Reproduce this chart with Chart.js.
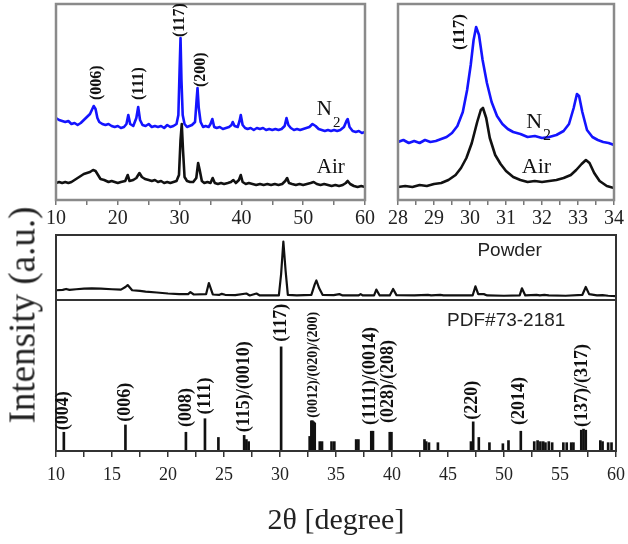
<!DOCTYPE html>
<html>
<head>
<meta charset="utf-8">
<script src="https://cdn.jsdelivr.net/npm/chart.js@4.4.0/dist/chart.umd.min.js"></script>
<style>
html, body { margin:0; padding:0; width:628px; height:544px; overflow:hidden; background:#fff; }
canvas { position:absolute; }
#ytitle { position:absolute; left:22px; top:315px; transform:translate(-50%,-50%) rotate(-90deg);
  font-family:"Liberation Serif", serif; font-size:37px; color:#222; white-space:nowrap; }
</style>
</head>
<body>
<canvas id="wide" width="349" height="235" style="left:36px;top:0px"></canvas>
<canvas id="zoom" width="256" height="235" style="left:378px;top:0px"></canvas>
<canvas id="powder" width="600" height="69" style="left:36px;top:233px"></canvas>
<canvas id="pdf" width="600" height="246" style="left:36px;top:298px"></canvas>
<div id="ytitle">Intensity (a.u.)</div>
<script>
// film patterns, 10-60 deg (N2 annealed / air annealed), arbitrary units
var n2Wide = [[10,82],[10.5,80],[11,79],[11.5,78],[12,79],[12.5,76],[13,77],[13.5,75],[14,77],[14.5,80],
  [15,83],[15.5,86],[15.8,90],[16.1,94],[16.4,91],[16.7,82],[17,78],[17.5,76],[18,75],[18.5,76],[19,74],
  [19.5,73],[20,74],[20.5,72],[21,73],[21.4,76],[21.7,85],[22,76],[22.5,74],[23,82],[23.3,93],[23.6,80],
  [24,75],[24.5,74],[25,76],[25.5,73],[26,74],[26.5,73],[27,74],[27.5,72],[28,75],[28.5,73],[29,74],
  [29.5,76],[29.8,85],[30,130],[30.15,162],[30.3,120],[30.5,85],[30.8,76],[31.2,73],[31.6,74],[32,75],
  [32.5,78],[32.75,100],[32.9,112],[33.1,92],[33.4,78],[33.8,73],[34.2,74],[34.7,73],[35,76],[35.3,81],
  [35.6,73],[36,72],[36.5,73],[37,71],[37.5,72],[38,73],[38.4,75],[38.6,78],[38.9,74],[39.4,73],[39.7,79],
  [39.9,85],[40.2,75],[40.6,72],[41,71],[41.5,72],[42,70],[42.5,72],[43,71],[43.5,72],[44,70],[44.5,71],
  [45,70],[45.5,71],[46,70],[46.5,71],[47,74],[47.3,82],[47.6,75],[48,72],[48.5,70],[49,71],[49.5,70],
  [50,71],[50.5,72],[51,73],[51.5,76],[52,74],[52.5,71],[53,70],[53.5,69],[54,70],[54.5,69],[55,70],
  [55.5,69],[56,70],[56.6,73],[57,79],[57.2,81],[57.5,73],[58,69],[58.5,68],[59,69],[59.5,67],[60,68]];
var airWide = [[10,17],[10.5,18],[11,17],[11.5,18],[12,17],[12.5,18],[13,20],[13.5,22],[14,24],[14.5,26],
  [15,27],[15.5,28],[16,30],[16.4,29],[16.8,25],[17.2,21],[17.8,20],[18.5,18],[19,19],[19.5,18],[20,17],
  [20.5,18],[21.2,19],[21.6,25],[21.9,19],[22.5,20],[23,22],[23.5,27],[23.9,23],[24.4,21],[25,20],[25.5,19],
  [26,20],[26.5,18],[27,19],[27.5,17],[28,18],[28.5,17],[29,18],[29.5,19],[29.9,25],[30.15,60],[30.35,76],
  [30.55,50],[30.8,23],[31.2,19],[31.7,18],[32.2,18],[32.7,22],[33,37],[33.25,30],[33.6,19],[34,17],
  [34.5,18],[35,17],[35.35,22],[35.7,17],[36.2,16],[36.7,17],[37.2,16],[37.8,17],[38.3,18],[38.7,20],
  [39.1,17],[39.6,20],[39.9,25],[40.2,18],[40.7,16],[41.2,17],[41.8,16],[42.4,15],[43,16],[43.6,15],
  [44.2,16],[44.8,15],[45.4,16],[46,15],[46.6,16],[47.1,19],[47.4,22],[47.7,17],[48.2,16],[48.8,15],
  [49.4,16],[50,15],[50.6,16],[51.2,17],[51.7,18],[52.2,16],[52.8,15],[53.4,16],[54,15],[54.6,14],
  [55.2,15],[55.8,14],[56.4,15],[56.9,17],[57.2,19],[57.6,16],[58.2,14],[58.8,13],[59.4,14],[60,13]];

// detail 28-34 deg
var n2Zoom = [[28,58],[28.15,60],[28.3,57],[28.45,59],[28.6,57],[28.75,60],[28.9,58],[29.05,59],[29.2,61],
  [29.35,63],[29.5,67],[29.65,74],[29.8,88],[29.92,110],[30.02,135],[30.1,160],[30.17,173],[30.25,165],
  [30.35,140],[30.47,117],[30.6,98],[30.75,84],[30.9,76],[31.05,71],[31.2,68],[31.4,66],[31.6,63],[31.8,64],
  [32,62],[32.2,63],[32.4,65],[32.6,69],[32.75,76],[32.88,92],[32.97,106],[33.03,104],[33.12,88],[33.25,70],
  [33.4,63],[33.55,60],[33.7,58],[33.85,57],[34,55]];
var airZoom = [[28,13],[28.2,14],[28.4,13],[28.6,15],[28.8,14],[29,16],[29.2,17],[29.4,20],[29.6,25],
  [29.75,32],[29.9,42],[30.05,57],[30.2,78],[30.3,90],[30.36,92],[30.45,82],[30.55,62],[30.7,45],[30.85,36],
  [31,29],[31.2,23],[31.4,20],[31.6,18],[31.8,19],[32,18],[32.2,19],[32.4,20],[32.6,22],[32.8,25],[32.95,30],
  [33.1,36],[33.22,40],[33.32,37],[33.45,27],[33.6,19],[33.8,14],[34,12]];

// powder pattern (% of panel height)
var powderScan = [[10,15],[10.6,15.5],[10.9,17],[11.2,15.5],[11.8,16.5],[12.5,17.5],[13.2,18],[14,17.5],
  [15,16.5],[15.8,16],[16.2,20],[16.4,23],[16.8,15],[17.5,14],[18,13],[19,11.5],[20,10],[21,9],[21.8,9],
  [22,12],[22.3,8.5],[23.4,9],[23.65,26],[24,8.5],[24.6,8],[24.8,9.5],[25.1,8],[26,7.5],[27,10],[27.3,7],
  [27.9,10],[28.2,7],[29,7],[29.9,7],[30.1,40],[30.3,90],[30.5,45],[30.7,8],[31.5,7],[32.8,8],[33.1,24],
  [33.25,30],[33.5,18],[33.8,8],[34.8,7.5],[35.3,9],[35.6,7],[37,7],[37.2,9],[37.4,7],[38.4,7],[38.6,16],
  [38.9,7],[39.8,7],[40.1,17],[40.4,7.5],[42,7],[43.2,8],[43.5,7],[44.3,8],[44.6,7],[47.2,7],[47.45,21],
  [47.7,9],[48.2,9],[48.5,7],[50,6.5],[51.4,7],[51.6,18],[51.9,7],[52.9,8],[53.2,7],[53.6,8],[54,7],
  [55.5,6.5],[57,8],[57.3,20],[57.6,9],[58.3,7],[58.8,7.5],[59.3,6.5],[60,6]];

// PDF#73-2181 reference lines: 2theta and relative intensity
var pdfAngle = [10.7,16.2,21.6,23.3,24.5,26.8,27.0,27.2,30.1,32.65,32.8,32.9,33.0,33.1,33.55,33.75,34.6,34.85,
  36.8,37.0,38.15,38.3,39.8,39.95,42.9,43.05,43.3,44.1,47.05,47.25,47.75,48.7,49.9,50.4,51.5,52.7,53.0,53.25,
  53.5,53.7,54.0,54.3,55.3,55.6,56.0,56.2,56.9,57.1,57.3,58.6,58.8,59.3,59.6];
var pdfIntensity = [18,25,18,31,13,15,11,9,100,14,29,29,28,27,9,9,9,9,11,11,19,19,18,18,11,9,8,8,9,28,13,
  8,7,10,19,9,10,9,9,8,9,8,8,8,8,8,20,21,20,10,9,8,8];

// hkl labels
var wideLabels = ['(006)','(111)','(117)','(200)'];
var wideLabelX = [16.6,23.4,30.0,33.4];
var wideLabelY = [100,100,163,113];
var zoomLabels = ['(117)'];
var zoomLabelX = [29.72];
var zoomLabelY = [150];
var pdfLabels = ['(004)','(006)','(008)','(111)','(115)/(0010)','(117)','(0012)/(020)/(200)',
  '(1111)/(0014)','(028)/(208)','(220)','(2014)','(137)/(317)'];
var pdfLabelX = [10.7,16.2,21.6,23.3,26.8,30.1,33.0,38.1,39.7,47.2,51.4,57.0];
var pdfLabelY = [20,28,23,35,18,105,32,25,27,30,25,23];

var SERIF = '"Liberation Serif", "Times New Roman", serif';
var SANS = '"Liberation Sans", Arial, sans-serif';

function decor(frameColor, frameWidth, texts) {
  return {
    id: 'decor',
    afterDatasetsDraw: function(chart) {
      var ctx = chart.ctx, a = chart.chartArea, sx = chart.scales.x, sy = chart.scales.y;
      ctx.save();
      ctx.strokeStyle = frameColor;
      ctx.lineWidth = frameWidth;
      ctx.strokeRect(a.left, a.top, a.right - a.left, a.bottom - a.top);
      texts.forEach(function(t) {
        var px = sx.getPixelForValue(t.x), py = sy.getPixelForValue(t.y);
        ctx.fillStyle = t.color || '#111';
        ctx.font = t.font;
        if (t.rotate) {
          ctx.save();
          ctx.translate(px, py);
          ctx.rotate(-Math.PI / 2);
          ctx.textAlign = 'left';
          ctx.textBaseline = 'middle';
          ctx.fillText(t.text, 0, 0);
          ctx.restore();
        } else {
          ctx.textAlign = t.align || 'left';
          ctx.textBaseline = t.baseline || 'alphabetic';
          ctx.fillText(t.text, px, py);
          if (t.sub) {
            var w = ctx.measureText(t.text).width;
            ctx.font = t.subFont;
            ctx.fillText(t.sub, px + w + 1, py + 12);
          }
        }
      });
      ctx.restore();
    }
  };
}

function xAxis(min, max, step, every, fontSize, tickColor, height, pad) {
  return {
    type: 'linear', min: min, max: max, offset: false,
    ticks: { stepSize: step, autoSkip: false, maxRotation: 0, padding: pad, color: '#222',
      font: { family: SERIF, size: fontSize },
      callback: function(v) { return Math.abs(v / every - Math.round(v / every)) < 1e-6 ? v : ''; } },
    grid: { display: true, drawOnChartArea: false, drawTicks: true, tickLength: 5, color: tickColor, lineWidth: 1.5, offset: false },
    border: { display: false },
    afterFit: function(s) { s.height = height; }
  };
}

function lineSet(data, color, width) {
  return { data: data, borderColor: color, borderWidth: width, pointRadius: 0, tension: 0, fill: false,
    borderJoinStyle: 'round' };
}

var base = { responsive: false, animation: false, devicePixelRatio: 1, events: [],
  plugins: { legend: { display: false }, tooltip: { enabled: false } } };

function rotLabels(list, xs, ys, font) {
  return list.map(function(t, i) { return { text: t, x: xs[i], y: ys[i], font: font, rotate: true }; });
}

// top left: 10-60
var wideTexts = rotLabels(wideLabels, wideLabelX, wideLabelY, 'bold 16px ' + SERIF).concat([
  { text: 'N', sub: '2', x: 52.2, y: 85, font: '21px ' + SERIF, subFont: '15px ' + SERIF },
  { text: 'Air', x: 52.2, y: 27, font: '21px ' + SERIF }
]);
new Chart(document.getElementById('wide'), {
  type: 'line',
  data: { datasets: [lineSet(n2Wide, '#1414ff', 2.6), lineSet(airWide, '#111', 2.6)] },
  options: Object.assign({}, base, {
    layout: { padding: { left: 20, right: 20, top: 4, bottom: 0 } },
    scales: { x: xAxis(10, 60, 5, 10, 20, '#777', 35, 2), y: { display: false, min: 0, max: 196 } }
  }),
  plugins: [decor('#8a8a8a', 2.5, wideTexts)]
});

// top right: 28-34
var zoomTexts = rotLabels(zoomLabels, zoomLabelX, zoomLabelY, 'bold 17px ' + SERIF).concat([
  { text: 'N', sub: '2', x: 31.56, y: 72, font: '22px ' + SERIF, subFont: '16px ' + SERIF },
  { text: 'Air', x: 31.44, y: 27, font: '22px ' + SERIF }
]);
new Chart(document.getElementById('zoom'), {
  type: 'line',
  data: { datasets: [lineSet(n2Zoom, '#1414ff', 2.6), lineSet(airZoom, '#111', 2.6)] },
  options: Object.assign({}, base, {
    layout: { padding: { left: 20, right: 20, top: 4, bottom: 0 } },
    scales: { x: xAxis(28, 34, 0.5, 1, 20, '#777', 35, 2), y: { display: false, min: 0, max: 196 } }
  }),
  plugins: [decor('#8a8a8a', 2.5, zoomTexts)]
});

// powder
new Chart(document.getElementById('powder'), {
  type: 'line',
  data: { datasets: [lineSet(powderScan, '#111', 2.2)] },
  options: Object.assign({}, base, {
    layout: { padding: { left: 20, right: 20, top: 2, bottom: 2 } },
    scales: { x: { type: 'linear', display: false, min: 10, max: 60 }, y: { display: false, min: 0, max: 100 } }
  }),
  plugins: [decor('#333', 2, [{ text: 'Powder', x: 50.5, y: 75, font: '19px ' + SANS, align: 'center', baseline: 'middle', color: '#222' }])]
});

// PDF sticks
var pdfTexts = rotLabels(pdfLabels, pdfLabelX, pdfLabelY, 'bold 18px ' + SERIF);
pdfTexts[6].font = 'bold 14px ' + SERIF;
pdfTexts.push({ text: 'PDF#73-2181', x: 50.2, y: 125, font: '19px ' + SANS, align: 'center', baseline: 'middle', color: '#222' });
var pdfX = xAxis(10, 60, 2.5, 5, 18, '#333', 93, 7);
pdfX.title = { display: true, text: '2\u03b8 [degree]', color: '#222', font: { family: SERIF, size: 30, lineHeight: 1.2 },
  padding: { top: 0, bottom: 5 } };
pdfX.grid.tickLength = 6;
new Chart(document.getElementById('pdf'), {
  type: 'bar',
  data: { datasets: [{ data: pdfAngle.map(function(a, i) { return { x: a, y: pdfIntensity[i] }; }),
    backgroundColor: '#111', borderWidth: 0, barThickness: 2 }] },
  options: Object.assign({}, base, {
    layout: { padding: { left: 20, right: 20, top: 2, bottom: 0 } },
    scales: { x: pdfX, y: { display: false, min: 0, max: 145 } }
  }),
  plugins: [decor('#333', 2, pdfTexts)]
});
</script>
</body>
</html>
